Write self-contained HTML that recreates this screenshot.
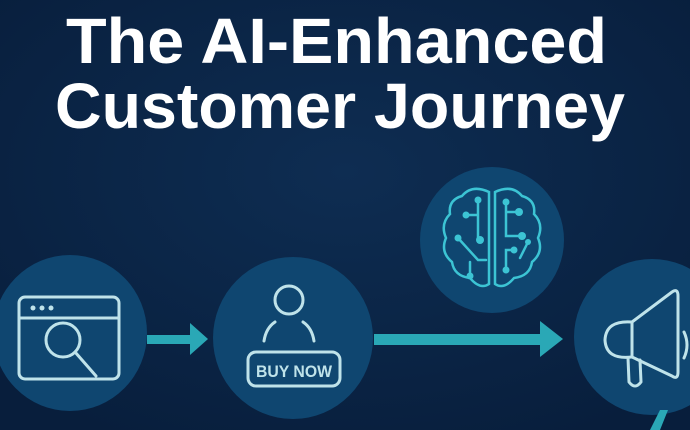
<!DOCTYPE html>
<html><head><style>
html,body{margin:0;padding:0;background:#0b2545;}
svg{display:block;}
</style></head><body>
<svg width="690" height="430" viewBox="0 0 690 430" xmlns="http://www.w3.org/2000/svg">
<defs>
<radialGradient id="bg" cx="50%" cy="40%" r="70%">
<stop offset="0" stop-color="#0e2d52"/><stop offset="1" stop-color="#081e3c"/>
</radialGradient>
</defs>
<rect width="690" height="430" fill="url(#bg)"/>
<g font-family="Liberation Sans, sans-serif" font-weight="bold" fill="#ffffff" font-size="64">
<text x="66" y="63" textLength="541" lengthAdjust="spacingAndGlyphs">The AI-Enhanced</text>
<text x="55" y="128" textLength="570" lengthAdjust="spacingAndGlyphs">Customer Journey</text>
</g>
<g fill="#0f4670">
<ellipse cx="70" cy="333" rx="77" ry="78"/>
<ellipse cx="293" cy="338" rx="80" ry="81"/>
<ellipse cx="492" cy="240" rx="72" ry="73"/>
<ellipse cx="652" cy="337" rx="78" ry="78"/>
</g>
<g fill="#2aa8b6">
<rect x="147" y="335" width="45" height="9"/>
<polygon points="190,323 208,339 190,355"/>
<rect x="374" y="334" width="168" height="11"/>
<polygon points="540,321 563,339 540,357"/>
<polygon points="650,430 660,410 668,410 660,430"/>
</g>
<g fill="none" stroke="#bfe3ea" stroke-width="3" stroke-linecap="round">
<rect x="19" y="297" width="100" height="82" rx="6"/>
<line x1="19" y1="318" x2="119" y2="318"/>
<circle cx="63" cy="340" r="17"/>
<line x1="75" y1="352" x2="96" y2="376"/>
</g>
<g fill="#bfe3ea"><circle cx="33" cy="308" r="2.5"/><circle cx="42" cy="308" r="2.5"/><circle cx="51" cy="308" r="2.5"/></g>
<g fill="none" stroke="#bfe3ea" stroke-width="3" stroke-linecap="round">
<circle cx="289" cy="300" r="14"/>
<path d="M264 341 Q266 328 275 322"/>
<path d="M303 322 Q312 328 314 341"/>
<rect x="248" y="352" width="92" height="34" rx="8"/>
</g>
<text x="294" y="377" text-anchor="middle" font-family="Liberation Sans, sans-serif" font-weight="bold" font-size="17" fill="#bfe3ea" textLength="76" lengthAdjust="spacingAndGlyphs">BUY NOW</text>
<g fill="none" stroke="#3cc4d4" stroke-width="2.5" stroke-linecap="round">
<path d="M489 192 Q472 184 462 196 Q448 200 450 214 Q440 224 446 238 Q440 252 452 262 Q454 276 470 278 Q480 290 489 284 Z"/>
<path d="M495 192 Q512 184 522 196 Q536 200 534 214 Q544 224 538 238 Q544 252 532 262 Q530 276 514 278 Q504 290 495 284 Z"/>
<path d="M478 200 L478 240 M466 215 L478 215 M458 238 L478 260 L486 260 M470 262 L470 276"/>
<path d="M506 202 L506 236 L522 236 M520 212 L506 212 M514 250 L506 250 L506 270 M528 242 L520 258"/>
</g>
<g fill="#3cc4d4">
<circle cx="478" cy="200" r="3.5"/><circle cx="466" cy="215" r="3.5"/><circle cx="458" cy="238" r="3.5"/>
<circle cx="480" cy="240" r="4"/><circle cx="470" cy="276" r="3.5"/><circle cx="506" cy="202" r="3.5"/>
<circle cx="519" cy="212" r="4"/><circle cx="522" cy="236" r="4"/><circle cx="514" cy="250" r="3.5"/>
<circle cx="506" cy="270" r="3.5"/><circle cx="528" cy="242" r="3"/>
</g>
<g fill="none" stroke="#bfe3ea" stroke-width="3" stroke-linejoin="round" stroke-linecap="round">
<path d="M632 322 L672 292 Q678 288 678 296 L678 372 Q678 380 672 376 L632 357"/>
<path d="M632 322 Q606 320 605 340 Q606 360 632 357 Z"/>
<path d="M684 332 Q690 345 684 358"/>
<path d="M628 358 L629 382 Q635 390 641 382 L640 360"/>
</g>
</svg>
</body></html>
